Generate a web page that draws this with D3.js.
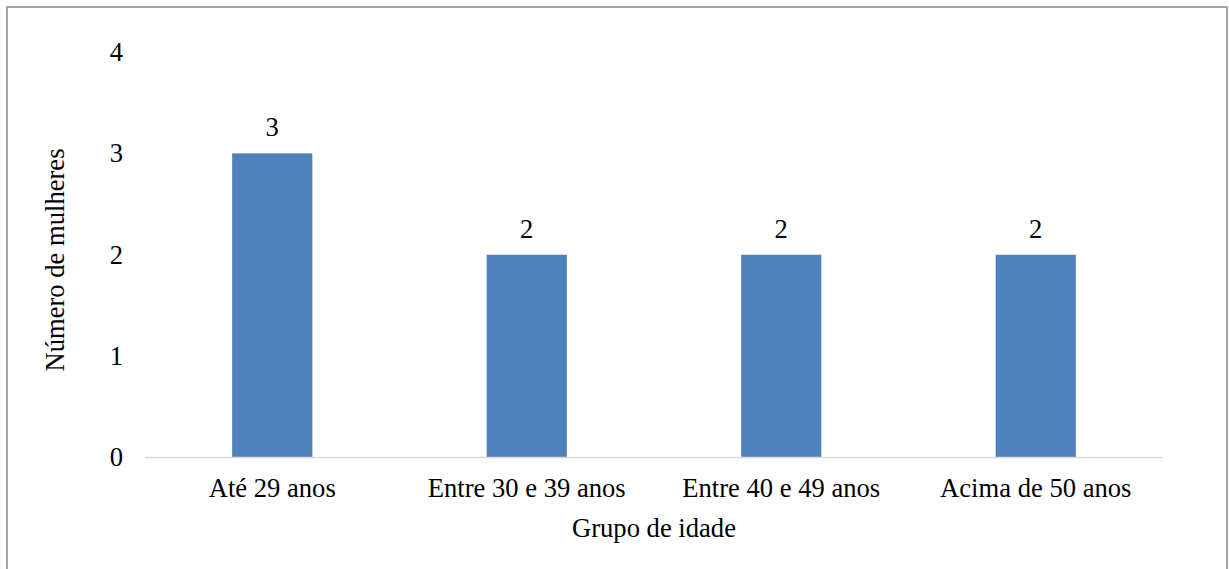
<!DOCTYPE html>
<html>
<head>
<meta charset="utf-8">
<script src="https://cdn.jsdelivr.net/npm/d3@7"></script>
<style>
  html, body { margin: 0; padding: 0; background: #fff; }
  svg { display: block; }
</style>
</head>
<body>
<svg id="chart" width="1229" height="569"></svg>
<script>
// Women per age group
const categories = ["Até 29 anos", "Entre 30 e 39 anos", "Entre 40 e 49 anos", "Acima de 50 anos"];
const values = [3, 2, 2, 2];
const yTicks = [0, 1, 2, 3, 4];
const xTitle = "Grupo de idade";
const yTitle = "Número de mulheres";

const svg = d3.select("#chart");
const W = 1229, H = 569;
const plot = { left: 145, right: 1163, top: 52, bottom: 457.5 };
const fontSize = 26.6;

// outer frame
svg.append("rect")
  .attr("x", 7).attr("y", 7)
  .attr("width", 1220).attr("height", H + 10)
  .attr("fill", "none")
  .attr("stroke", "#898989")
  .attr("stroke-width", 1.5);

const x = d3.scaleBand()
  .domain(categories)
  .range([plot.left, plot.right])
  .paddingInner(0.685)
  .paddingOuter(0.685 / 2);

const y = d3.scaleLinear()
  .domain([0, 4])
  .range([plot.bottom, plot.top]);

// bars
svg.append("g").selectAll("rect")
  .data(categories)
  .join("rect")
  .attr("x", d => x(d))
  .attr("y", (d, i) => y(values[i]))
  .attr("width", x.bandwidth())
  .attr("height", (d, i) => y(0) - y(values[i]))
  .attr("fill", "#4F81BD");

// category axis line
svg.append("line")
  .attr("x1", plot.left).attr("x2", plot.right)
  .attr("y1", y(0)).attr("y2", y(0))
  .attr("stroke", "#d9d9d9")
  .attr("stroke-width", 1.5);

const label = sel => sel
  .attr("font-family", "Liberation Serif")
  .attr("font-size", fontSize)
  .attr("fill", "#000");

// value labels
svg.append("g").selectAll("text")
  .data(categories)
  .join("text")
  .attr("x", d => x(d) + x.bandwidth() / 2)
  .attr("y", (d, i) => y(values[i]) - 17)
  .attr("text-anchor", "middle")
  .call(label)
  .text((d, i) => values[i]);

// y tick labels
svg.append("g").selectAll("text")
  .data(yTicks)
  .join("text")
  .attr("x", 123)
  .attr("y", d => y(d))
  .attr("dy", "0.33em")
  .attr("text-anchor", "end")
  .call(label)
  .text(d => d);

// category labels
svg.append("g").selectAll("text")
  .data(categories)
  .join("text")
  .attr("x", d => x(d) + x.bandwidth() / 2)
  .attr("y", 497)
  .attr("text-anchor", "middle")
  .call(label)
  .text(d => d);

// axis titles
svg.append("text")
  .attr("x", (plot.left + plot.right) / 2)
  .attr("y", 537)
  .attr("text-anchor", "middle")
  .call(label)
  .text(xTitle);

svg.append("text")
  .attr("transform", "translate(64,260) rotate(-90)")
  .attr("text-anchor", "middle")
  .call(label)
  .text(yTitle);
</script>
</body>
</html>
